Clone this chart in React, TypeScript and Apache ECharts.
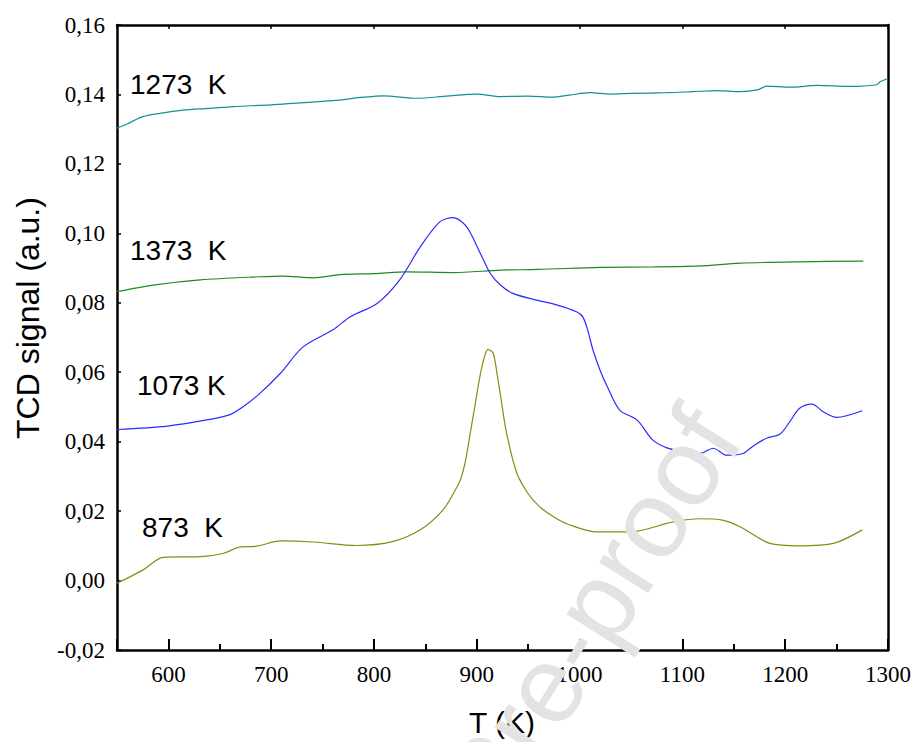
import React, { useEffect, useRef } from "react";
import * as echarts from "echarts";

const xTicks = [600, 700, 800, 900, 1000, 1100, 1200, 1300];

const s1273: [number, number][] = [
  [550, 0.1303], [560, 0.1315], [575, 0.1336], [595, 0.1347], [614, 0.1355], [640, 0.136], [663, 0.1365],
  [700, 0.137], [728, 0.1376], [760, 0.1382], [790, 0.1392], [809, 0.1396], [842, 0.1389], [870, 0.1395],
  [900, 0.1401], [923, 0.1394], [950, 0.1395], [974, 0.1392], [990, 0.1398], [1010, 0.1405], [1030, 0.1401],
  [1050, 0.1403], [1085, 0.1405], [1110, 0.1408], [1134, 0.1411], [1156, 0.1408], [1173, 0.1413],
  [1182, 0.1424], [1205, 0.1421], [1231, 0.1426], [1263, 0.1423], [1289, 0.1428], [1292, 0.1436], [1300, 0.1446],
];

const s1373: [number, number][] = [
  [550, 0.0832], [585, 0.0851], [631, 0.0866], [689, 0.0875], [711, 0.0877], [741, 0.0872], [767, 0.0881],
  [800, 0.0884], [832, 0.0889], [877, 0.0887], [923, 0.0894], [960, 0.0896], [1020, 0.0902], [1070, 0.0903],
  [1117, 0.0906], [1156, 0.0914], [1214, 0.0918], [1276, 0.092],
];

const s1073: [number, number][] = [
  [550, 0.0435], [599, 0.0445], [640, 0.0464], [660, 0.0478], [673, 0.0501], [689, 0.0539], [709, 0.0597],
  [731, 0.0673], [760, 0.0722], [777, 0.076], [803, 0.0798], [825, 0.0866], [845, 0.0961], [864, 0.1033],
  [877, 0.1045], [890, 0.1019], [903, 0.0945], [913, 0.0885], [923, 0.0851], [935, 0.0827], [955, 0.081],
  [980, 0.0792], [997, 0.0774], [1003, 0.076], [1008, 0.072], [1013, 0.0664], [1020, 0.0605], [1027, 0.0558],
  [1039, 0.0491], [1056, 0.0462], [1071, 0.0405], [1085, 0.0382], [1100, 0.0372], [1117, 0.0366],
  [1130, 0.0381], [1143, 0.0361], [1159, 0.0366], [1170, 0.039], [1182, 0.041], [1195, 0.0422],
  [1205, 0.046], [1214, 0.0496], [1226, 0.0508], [1237, 0.0486], [1250, 0.047], [1275, 0.0489],
];

const s873: [number, number][] = [
  [550, -0.0008], [575, 0.003], [595, 0.0067], [631, 0.0069], [653, 0.0078], [670, 0.0097], [686, 0.0099],
  [709, 0.0114], [741, 0.0111], [783, 0.0101], [818, 0.0112], [845, 0.0146], [867, 0.0203], [878, 0.0255],
  [884, 0.029], [889, 0.0345], [893, 0.0414], [898, 0.05], [903, 0.0587], [907, 0.064], [911, 0.0666],
  [916, 0.0654], [920, 0.059], [923, 0.0534], [929, 0.0424], [939, 0.0309], [950, 0.025], [961, 0.0213],
  [975, 0.0183], [988, 0.0163], [1017, 0.014], [1049, 0.014], [1091, 0.0169], [1117, 0.0178],
  [1139, 0.0174], [1156, 0.0155], [1185, 0.0107], [1214, 0.01], [1247, 0.0107], [1275, 0.0146],
];

const seriesNames = ["1273  K", "1373  K", "1073 K", "873  K"];
const seriesColors = ["#139090", "#1f8a1f", "#2a2aff", "#8a8a12"];

export default function App() {
  const ref = useRef<HTMLDivElement>(null);
  useEffect(() => {
    if (!ref.current) return;
    const chart = echarts.init(ref.current, null, { renderer: "svg" });
    const datasets = [s1273, s1373, s1073, s873];
    const labelPos = [
      [130, 87],
      [130, 253],
      [137, 388],
      [142, 530],
    ];
    const serif = "'Liberation Serif', 'Times New Roman', serif";
    const sans = "Liberation Sans";
    const tickRich = { t: { fontFamily: serif, fontSize: 23, color: "#000" } };
    chart.setOption({
      animation: false,
      backgroundColor: "#ffffff",
      textStyle: { fontFamily: serif },
      grid: { left: 117, right: 29, top: 25, bottom: 92, containLabel: false },
      xAxis: [
        {
          type: "value",
          min: 550,
          max: 1300,
          splitNumber: 7,
          position: "bottom",
          axisLine: { show: true, onZero: false, lineStyle: { color: "#000", width: 2.5 } },
          axisTick: { show: true, inside: true, length: 11, lineStyle: { color: "#000", width: 2 } },
          minorTick: { show: true, splitNumber: 2, length: 6, lineStyle: { color: "#000", width: 2 } },
          axisLabel: {
            color: "#000",
            fontFamily: serif,
            fontSize: 23,
            margin: 13,
            rich: tickRich,
            formatter: (v: number) => (xTicks.includes(v) ? `{t|${v}}` : ""),
          },
          splitLine: { show: false },
        },
        {
          type: "value",
          min: 550,
          max: 1300,
          splitNumber: 7,
          position: "top",
          axisLine: { show: true, onZero: false, lineStyle: { color: "#000", width: 2.5 } },
          axisTick: { show: true, inside: true, length: 4, lineStyle: { color: "#000", width: 1.5 } },
          axisLabel: { show: false },
          splitLine: { show: false },
        },
      ],
      yAxis: [
        {
          type: "value",
          min: -0.02,
          max: 0.16,
          interval: 0.02,
          position: "left",
          axisLine: { show: true, onZero: false, lineStyle: { color: "#000", width: 2.5 } },
          axisTick: { show: true, inside: true, length: 4, lineStyle: { color: "#000", width: 1.5 } },
          axisLabel: {
            color: "#000",
            fontFamily: serif,
            fontSize: 23,
            margin: 12,
            rich: tickRich,
            formatter: (v: number) => `{t|${v.toFixed(2).replace(".", ",")}}`,
          },
          splitLine: { show: false },
        },
        {
          type: "value",
          min: -0.02,
          max: 0.16,
          interval: 0.02,
          position: "right",
          axisLine: { show: true, onZero: false, lineStyle: { color: "#000", width: 2.5 } },
          axisTick: { show: false },
          axisLabel: { show: false },
          splitLine: { show: false },
        },
      ],
      series: datasets.map((d, i) => ({
        type: "line",
        name: seriesNames[i],
        data: d,
        xAxisIndex: 0,
        yAxisIndex: 0,
        showSymbol: false,
        smooth: 0.3,
        lineStyle: { color: seriesColors[i], width: 1.2 },
        itemStyle: { color: seriesColors[i] },
        z: 3,
      })),
      graphic: [
        ...seriesNames.map((n, i) => ({
          type: "text",
          left: labelPos[i][0],
          top: labelPos[i][1] - 17,
          style: { text: n, fill: "#000", font: `28px ${sans}` },
          z: 10,
        })),
        {
          type: "text",
          x: 28,
          y: 318,
          rotation: Math.PI / 2,
          style: {
            text: "TCD signal (a.u.)",
            fill: "#000",
            font: `32px ${sans}`,
            align: "center",
            verticalAlign: "middle",
          },
          z: 10,
        },
        {
          type: "text",
          x: 502,
          y: 722,
          style: { text: "T (K)", fill: "#000", font: `30px ${sans}`, align: "center", verticalAlign: "middle" },
          z: 10,
        },
        {
          type: "text",
          x: 713,
          y: 419,
          rotation: 1.007,
          style: {
            text: "Journal Pre-proof",
            fill: "#e3e3e3",
            font: `110px ${sans}`,
            align: "right",
            verticalAlign: "middle",
          },
          z: 20,
          silent: true,
        },
      ],
    });
    return () => chart.dispose();
  }, []);
  return <div ref={ref} style={{ width: 917, height: 742, position: "absolute", left: 0, top: 0 }} />;
}
